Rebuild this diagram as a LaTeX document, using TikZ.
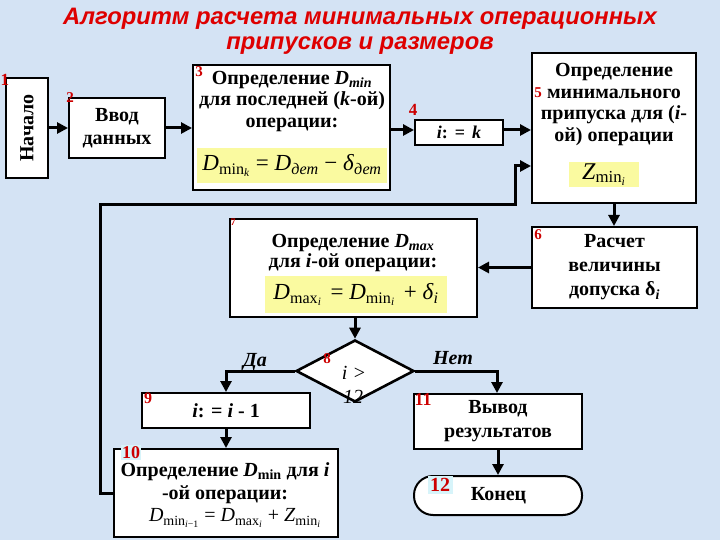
\documentclass[tikz,border=0pt]{standalone}
\usepackage{fontspec}
\setmainfont{Liberation Serif}
\newfontfamily\titlefont{Liberation Sans}
\usetikzlibrary{shapes.geometric,arrows.meta,calc}
\definecolor{bgblue}{RGB}{212,227,244}
\definecolor{titlered}{RGB}{222,0,0}
\definecolor{numred}{RGB}{205,0,0}
\definecolor{formyellow}{RGB}{250,250,160}
\definecolor{lblbg}{RGB}{215,244,250}
\newcommand\sbs[1]{\textsubscript{#1}}
\newcommand\fs[2]{\fontsize{#1}{#2}\selectfont}
\begin{document}
\begin{tikzpicture}[x=1pt,y=-1pt,
  box/.style={draw=black, fill=white, line width=2pt, inner sep=0pt},
  arr/.style={line width=3pt, -{Triangle[length=11pt,width=11pt]}},
  txt/.style={font=\fs{20}{21.5}\bfseries, align=center, inner sep=0pt},
  num/.style={text=numred, inner sep=0.5pt, font=\bfseries},
  form/.style={fill=formyellow, inner sep=0pt, font=\fs{23}{24}},
  ttl/.style={text=titlered, font=\titlefont\fs{23.8}{26}\bfseries\itshape, inner sep=0pt}]
\fill[bgblue] (0,0) rectangle (720,540);
\useasboundingbox (0,0) rectangle (720,540);
% title
\node[ttl] (title1) at (360,19) {Алгоритм расчета минимальных операционных};
\node[ttl] (title2) at (360,46) {припусков и размеров};
% boxes
\node[box, minimum width=42pt, minimum height=100pt] (b1) at (27,128) {};
\node[txt, rotate=90] (t1) at (27,128) {Начало};
\node[box, txt, font=\fs{20}{23}\bfseries, minimum width=96pt, minimum height=60pt] (b2) at (117,128) {Ввод\\данных};
\node[box, minimum width=197pt, minimum height=125pt] (b3) at (291.5,127.5) {};
\node[txt] (t3) at (292,101.5) {Определение \textit{D}\sbs{\textit{min}}\\для последней (\textit{k}-ой)\\операции:};
\node[form, minimum width=190pt, minimum height=35pt] (f3) at (292,165.5) {\textit{D}\sbs{min\sbs{\textit{k}}} = \textit{D}\sbs{\textit{дет}} − \textit{δ}\sbs{\textit{дет}}};
\node[box, txt, font=\fs{18}{20}\bfseries, minimum width=88pt, minimum height=25pt] (b4) at (459,132.5) {\textit{i}:\hspace{7pt}=\hspace{7pt}\textit{k}};
\node[box, minimum width=164pt, minimum height=150pt] (b5) at (614,128) {};
\node[txt] (t5) at (614,104.5) {Определение\\минимального\\припуска для (\textit{i}-\\ой) операции};
\node[form, minimum width=70pt, minimum height=25pt, font=\fs{24}{24}] (f5) at (604,174.5) {\textit{Z}\sbs{min\sbs{\textit{i}}}};
\node[box, txt, font=\fs{20}{24}\bfseries, minimum width=165pt, minimum height=81pt] (b6) at (614.5,267.5) {Расчет\\величины\\допуска δ\sbs{\textit{i}}};
\node[box, minimum width=247pt, minimum height=98pt] (b7) at (353.5,268) {};
\node[txt, font=\fs{20}{20.5}\bfseries] (t7) at (353,253) {Определение \textit{D}\sbs{\textit{max}}\\для \textit{i}-ой операции:};
\node[form, minimum width=182pt, minimum height=37pt] (f7) at (356,294.5) {\textit{D}\sbs{max\sbs{\textit{i}}}\hspace{3pt} = \textit{D}\sbs{min\sbs{\textit{i}}}\hspace{3pt} + \textit{δ}\sbs{\textit{i}}};
\node[diamond, draw=black, fill=white, line width=2.6pt, minimum width=118pt, minimum height=62pt, inner sep=0pt] (d8) at (355,371) {};
\node[font=\fs{20}{20}\itshape, inner sep=0pt] (t8a) at (354,373) {i >};
\node[font=\fs{20}{20}\itshape, inner sep=0pt] (t8b) at (353,397) {12};
\node[box, txt, font=\fs{20}{22}\bfseries, minimum width=168pt, minimum height=35pt] (b9) at (226,410.5) {\textit{i}: = \textit{i} - 1};
\node[box, minimum width=224pt, minimum height=88pt] (b10) at (226,493) {};
\node[txt, font=\fs{20}{23}\bfseries] (t10) at (225,483) {Определение \textit{D}\sbs{min} для \textit{i}\\-ой операции:};
\node[inner sep=0pt, font=\fs{20}{20}] (f10) at (235,518) {\textit{D}\sbs{min\sbs{\textit{i}−1}} = \textit{D}\sbs{max\sbs{\textit{i}}} + \textit{Z}\sbs{min\sbs{\textit{i}}}};
\node[box, txt, font=\fs{20}{24}\bfseries, minimum width=168pt, minimum height=55pt] (b11) at (498,421.5) {Вывод\\результатов};
\node[box, txt, rounded corners=19pt, minimum width=168pt, minimum height=39pt] (t12) at (498,495.5) {\hspace*{1pt}Конец};
% numbers
\node[num, font=\fs{17}{17}\bfseries] (n1) at (5,80) {1};
\node[num, font=\fs{15}{15}\bfseries] (n2) at (70,98) {2};
\node[num, font=\fs{15}{15}\bfseries] (n3) at (199,72) {3};
\node[num, font=\fs{17}{17}\bfseries] (n4) at (413,110) {4};
\node[num, font=\fs{15}{15}\bfseries] (n5) at (538,93) {5};
\node[num, font=\fs{15}{15}\bfseries] (n6) at (538,235) {6};
\node[num, font=\fs{10}{10}\bfseries] (n7) at (233,222) {7};
\node[num, font=\fs{15}{15}\bfseries] (n8) at (327,359) {8};
\node[num, font=\fs{16}{16}\bfseries] (n9) at (148,398) {9};
\node[num, fill=lblbg, inner sep=1pt, font=\fs{18}{18}\bfseries] (n10) at (131,452.5) {10};
\node[num, font=\fs{18}{18}\bfseries] (n11) at (423,400) {11};
\node[num, fill=lblbg, inner sep=2.5pt, font=\fs{20}{20}\bfseries] (n12) at (440,485) {12};
% branch labels
\node[font=\fs{20}{20}\bfseries\itshape, inner sep=0pt] (yes) at (255,362) {Да};
\node[font=\fs{20}{20}\bfseries\itshape, inner sep=0pt] (no) at (453,358) {Нет};
% connectors
\draw[arr] (b1.east) -- (b1.east -| b2.west);
\draw[arr] (b2.east) -- (b2.east -| b3.west);
\draw[arr] (b3.east |- 0,130) -- (b4.west |- 0,130);
\draw[arr] (b4.east |- 0,130) -- (b5.west |- 0,130);
\draw[arr] (b5.south -| 614,0) -- (b6.north -| 614,0);
\draw[arr] (b6.west) -- (b6.west -| b7.east);
\draw[arr] (b7.south -| d8.north) -- (d8.north);
\coordinate (cyes) at (226,371);
\coordinate (cno) at (497,371);
\draw[arr] (d8.west) -- (cyes) -- (b9.north);
\draw[arr] (d8.east) -- (cno) -- (cno |- b11.north);
\draw[arr] (b9.south) -- (b10.north);
\draw[arr] (b11.south) -- (t12.north);
\coordinate (fbA) at (100,493);
\coordinate (fbB) at (515,205);
\draw[arr] (b10.west) -- (fbA) |- (fbB) |- ($(b5.south west)!0.25!(b5.north west)$);
\end{tikzpicture}
\end{document}
